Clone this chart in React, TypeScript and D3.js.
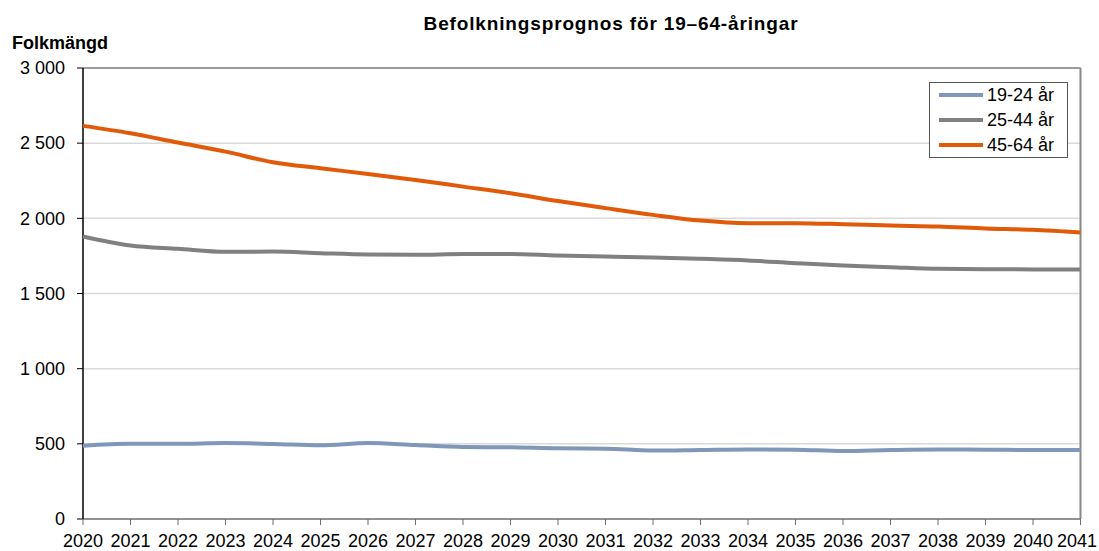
import React from "react";
import * as d3 from "d3";

const years = d3.range(2020, 2042);
const age19_24 = [488, 501, 501, 505, 499, 490, 505, 492, 479, 477, 470, 468, 455, 459, 463, 461, 452, 459, 463, 461, 459, 459];
const age25_44 = [1879, 1819, 1797, 1777, 1779, 1768, 1759, 1757, 1763, 1763, 1752, 1746, 1740, 1731, 1720, 1702, 1686, 1675, 1664, 1662, 1660, 1660];
const age45_64 = [2615, 2566, 2504, 2444, 2373, 2333, 2295, 2255, 2211, 2167, 2115, 2068, 2023, 1985, 1968, 1968, 1961, 1952, 1946, 1933, 1924, 1906];
const yTicks = [0, 500, 1000, 1500, 2000, 2500, 3000];
const seriesNames = ["19-24 år", "25-44 år", "45-64 år"];
const seriesColors = ["#7f97b8", "#808080", "#e05a0a"];

const W = 1099, H = 551;
const left = 83, right = 1080.5, top = 68, bottom = 519;

export default function App() {
  const x = d3.scaleLinear().domain([2020, 2041]).range([left, right]);
  const y = d3.scaleLinear().domain([0, 3000]).range([bottom, top]);
  const fmt = (v: number) => d3.format(",")(v).replace(/,/g, " ");
  const line = d3.line<number>().x((_, i) => x(years[i])).y((d) => y(d)).curve(d3.curveMonotoneX);
  const series = [age19_24, age25_44, age45_64];
  const font = "'Liberation Sans', Arial, sans-serif";
  return (
    <svg width={W} height={H} style={{ position: "absolute", left: 0, top: 0 }} fontFamily={font}>
      <rect width={W} height={H} fill="#fff" />
      <text x={611} y={30} textAnchor="middle" fontWeight="bold" fontSize={19} letterSpacing={0.85} fill="#000">
        Befolkningsprognos för 19–64-åringar
      </text>
      <text x={12} y={49} fontWeight="bold" fontSize={18} fill="#000">Folkmängd</text>
      {yTicks.map((t) => (
        <g key={t}>
          {t > 0 && t < 3000 && (
            <line x1={left} x2={right} y1={y(t)} y2={y(t)} stroke="#dadada" strokeWidth={1.5} />
          )}
          <line x1={left - 6} x2={left} y1={y(t)} y2={y(t)} stroke="#000" strokeWidth={1} />
          <text x={65} y={y(t)} dy="0.35em" textAnchor="end" fontSize={18} fill="#000">{fmt(t)}</text>
        </g>
      ))}
      <line x1={left} x2={right} y1={top} y2={top} stroke="#7a7a7a" strokeWidth={1.5} />
      <line x1={right} x2={right} y1={top} y2={bottom} stroke="#8a8a8a" strokeWidth={2} />
      <line x1={left} x2={right} y1={bottom} y2={bottom} stroke="#6e6e6e" strokeWidth={1.5} />
      {years.map((yr) => (
        <g key={yr}>
          <line x1={x(yr)} x2={x(yr)} y1={bottom} y2={bottom + 6} stroke="#6e6e6e" strokeWidth={1} />
          <text x={Math.min(x(yr), 1077)} y={547} textAnchor="middle" fontSize={18} fill="#000">{yr}</text>
        </g>
      ))}
      <line x1={left} x2={left} y1={top} y2={bottom} stroke="#000" strokeWidth={1.5} />
      {series.map((s, i) => (
        <path key={i} d={line(s) || ""} fill="none" stroke={seriesColors[i]} strokeWidth={4} strokeLinejoin="round" />
      ))}
      <rect x={929.5} y={82.5} width={138} height={75} fill="#fff" stroke="#555" strokeWidth={1} />
      {seriesNames.map((n, i) => (
        <g key={n}>
          <line x1={939} x2={983} y1={95 + i * 25} y2={95 + i * 25} stroke={seriesColors[i]} strokeWidth={4} />
          <text x={987} y={95 + i * 25} dy="0.35em" fontSize={18} fill="#000">{n}</text>
        </g>
      ))}
    </svg>
  );
}
